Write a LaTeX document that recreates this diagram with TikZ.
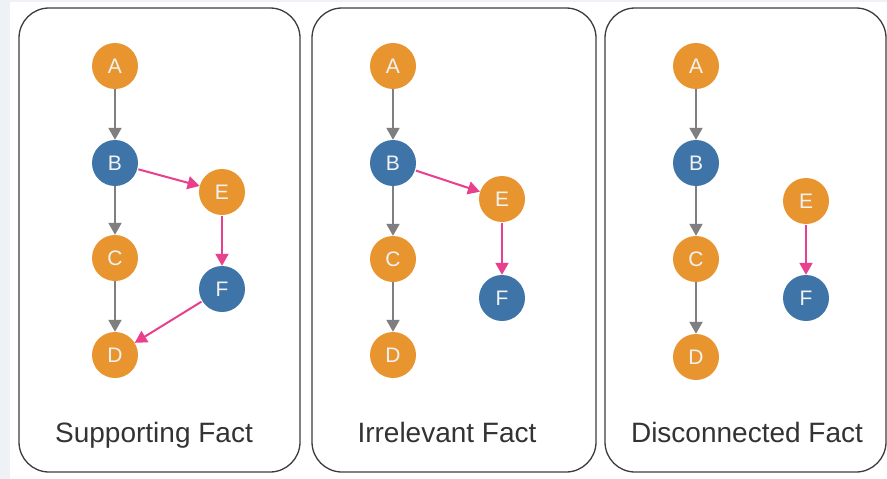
\documentclass[tikz,border=0pt]{standalone}
\usepackage{fontspec}
\setmainfont{Liberation Sans}
\usetikzlibrary{arrows.meta}
\definecolor{orangenode}{HTML}{E8952F}
\definecolor{bluenode}{HTML}{3E74A7}
\definecolor{pinkarrow}{HTML}{E8408C}
\definecolor{grayarrow}{HTML}{7F7F7F}
\definecolor{bgcol}{HTML}{EEF2F6}
\definecolor{framecol}{HTML}{3C3C3C}
\tikzset{
  panel/.style={draw=framecol,line width=1.3pt,rounded corners=30pt,fill=white},
  vnode/.style={circle,minimum size=46pt,inner sep=0pt,text=white!95!black,font=\fontsize{21}{21}\selectfont},
  onode/.style={vnode,fill=orangenode},
  bnode/.style={vnode,fill=bluenode},
  garrow/.style={draw=grayarrow,line width=2pt,-{Triangle[length=12pt,width=13pt]}},
  parrow/.style={draw=pinkarrow,line width=2pt,-{Triangle[length=12pt,width=13pt]}},
  caption/.style={anchor=base,inner sep=0pt,font=\fontsize{28}{28}\selectfont,text=black!80}
}
\begin{document}
\begin{tikzpicture}[x=1pt,y=-1pt]
\useasboundingbox (0,0) rectangle (887,479);
\fill[white] (0,0) rectangle (887,479);
\fill[bgcol] (0,0) rectangle (10,479);
\fill[bgcol] (0,0) rectangle (887,2);
% panels
\draw[panel] (19,8) rectangle (300,472);
\draw[panel] (312,8) rectangle (596,472);
\draw[panel] (605,8) rectangle (886,472);
% panel 1
\node[onode] (a1) at (115,66) {A};
\node[bnode] (b1) at (115,163) {B};
\node[onode] (c1) at (115,258) {C};
\node[onode] (d1) at (115,355) {D};
\node[onode] (e1) at (222,192) {E};
\node[bnode] (f1) at (222,289) {F};
\draw[garrow] (a1) -- (b1);
\draw[garrow] (b1) -- (c1);
\draw[garrow] (c1) -- (d1);
\draw[parrow,shorten <=1pt] (b1) -- (e1);
\draw[parrow,shorten <=1pt] (e1) -- (f1);
\draw[parrow,shorten <=1pt] (f1) -- (d1);
\node[caption] (l1) at (154,442) {Supporting Fact};
% panel 2
\node[onode] (a2) at (393,66) {A};
\node[bnode] (b2) at (393,163) {B};
\node[onode] (c2) at (393,259) {C};
\node[onode] (d2) at (393,355) {D};
\node[onode] (e2) at (502,199) {E};
\node[bnode] (f2) at (502,298) {F};
\draw[garrow] (a2) -- (b2);
\draw[garrow] (b2) -- (c2);
\draw[garrow] (c2) -- (d2);
\draw[parrow,shorten <=1pt] (b2) -- (e2);
\draw[parrow,shorten <=1pt] (e2) -- (f2);
\node[caption] (l2) at (447,442) {Irrelevant Fact};
% panel 3
\node[onode] (a3) at (696,66) {A};
\node[bnode] (b3) at (696,163) {B};
\node[onode] (c3) at (696,259) {C};
\node[onode] (d3) at (696,357) {D};
\node[onode] (e3) at (806,201) {E};
\node[bnode] (f3) at (806,298) {F};
\draw[garrow] (a3) -- (b3);
\draw[garrow] (b3) -- (c3);
\draw[garrow] (c3) -- (d3);
\draw[parrow,shorten <=1pt] (e3) -- (f3);
\node[caption] (l3) at (747,442) {Disconnected Fact};
\end{tikzpicture}
\end{document}
